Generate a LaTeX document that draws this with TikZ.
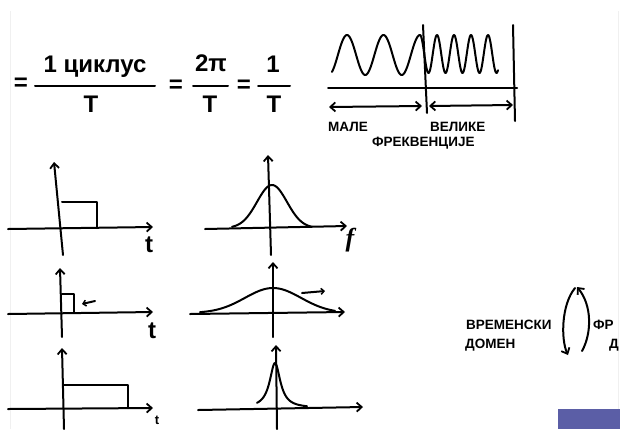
\documentclass[tikz,border=0pt]{standalone}
\usepackage{fontspec}
\setmainfont{Liberation Sans}
\newfontfamily\handserif{Liberation Serif}
\usetikzlibrary{arrows.meta}
\definecolor{slidebar}{HTML}{5B5EA6}
\begin{document}
\begin{tikzpicture}[x=1pt,y=-1pt,
  ink/.style={line width=2pt, line cap=round, line join=round, black},
  tipped/.style={ink,-{Straight Barb[length=5pt,width=9pt,line width=1.8pt]}},
  dbltip/.style={ink,{Straight Barb[length=5pt,width=9pt,line width=1.8pt]}-{Straight Barb[length=5pt,width=9pt,line width=1.8pt]}},
  bigtxt/.style={inner sep=0pt, font=\fontsize{24}{24}\selectfont\bfseries},
  lbl/.style={inner sep=0pt, font=\fontsize{13.5}{14}\selectfont\bfseries, anchor=west},
  axlbl/.style={inner sep=0pt, font=\fontsize{24}{24}\selectfont\bfseries}]
\useasboundingbox (0,0) rectangle (620,429);
\fill[white] (0,0) rectangle (620,429);
\draw[gray!12, line width=0.8pt] (10,429) -- (10,11);
\draw[gray!12, line width=0.8pt] (618,11) -- (618,429);

% ---------- formula ----------
\node[bigtxt] (eqa) at (21,84) {=};
\node[bigtxt] (num1) at (95,67) {1 циклус};
\draw[ink] (35,86) -- (155,86);
\node[bigtxt] (den1) at (91,104) {T};
\node[bigtxt] (eqb) at (176,86) {=};
\node[bigtxt] (num2) at (211,63) {2π};
\draw[ink] (193,86) -- (228,86);
\node[bigtxt] (den2) at (210,104) {T};
\node[bigtxt] (eqc) at (244,86) {=};
\node[bigtxt] (num3) at (273,64) {1};
\draw[ink] (258,86) -- (290,86);
\node[bigtxt] (den3) at (274,104) {T};

% ---------- wave ----------
\draw[ink] plot[domain=332:420, samples=120] (\x,{55-20*cos(9.863*(\x-420))})
  -- plot[domain=420:498, samples=140] (\x,{54-19*cos(21.176*(\x-420))});
\draw[ink] (423,25) -- (427,113);
\draw[ink] (513,25) -- (515,121);
\draw[ink] (328,88) -- (517,88);
\coordinate (la) at (329,107);
\coordinate (lb) at (422,106);
\coordinate (ra) at (429,106);
\coordinate (rb) at (513,105);
\draw[dbltip] (la) -- (lb);
\draw[dbltip] (ra) -- (rb);
\node[lbl] (male) at (328,127) {МАЛЕ};
\node[lbl] (velike) at (430,127) {ВЕЛИКЕ};
\node[lbl] (frek) at (372,143) {ФРЕКВЕНЦИЈЕ};

% ---------- left graphs ----------
% graph 1
\draw[tipped] (63,255) -- (54,162);
\draw[tipped] (8,229) -- (153,227);
\draw[ink] (62,202) -- (97,202) -- (97,228);
\node[axlbl] (t1) at (149,245) {t};
% graph 2
\draw[tipped] (62,337) -- (60,268);
\draw[tipped] (8,314) -- (153,312);
\draw[ink] (62,294) -- (74,294) -- (74,312);
\draw[ink,-{Straight Barb[length=3pt,width=6pt,line width=1.5pt]}] (95,301) -- (82,304);
\node[axlbl] (t2) at (152,331) {t};
% graph 3
\draw[tipped] (64,429) -- (62,348);
\draw[tipped] (8,409) -- (153,408);
\draw[ink] (64,385) -- (128,385) -- (128,408);
\node[inner sep=0pt, font=\fontsize{13}{13}\selectfont\bfseries] (t3) at (157,420) {t};

% ---------- right graphs ----------
% graph 1
\draw[tipped] (271,255) -- (268,155);
\draw[tipped] (205,229) -- (347,226);
\draw[ink] plot[domain=232:312, samples=80] (\x,{228-43*exp(-((\x-272)^2)/450)});
\node[inner sep=0pt, font=\fontsize{26}{26}\selectfont\handserif\bfseries\itshape] (f1) at (350,240) {f};
% graph 2
\draw[tipped] (273,337) -- (273,262);
\draw[tipped] (190,314) -- (345,312);
\draw[ink] plot[domain=200:335, samples=100] (\x,{313-25*exp(-((\x-273)^2)/1568)});
\draw[ink,-{Straight Barb[length=3pt,width=6pt,line width=1.5pt]}] (302,293) -- (325,291);
% graph 3
\draw[tipped] (277,429) -- (276,345);
\draw[tipped] (198,410) -- (363,407);
\draw[ink] plot[domain=257:307, samples=120] (\x,{408-45/(1+((\x-275)/6.5)^2)});

% ---------- domains ----------
\node[lbl] (vrem) at (466,325) {ВРЕМЕНСКИ};
\node[lbl] (domen) at (465,345) {ДОМЕН};
\coordinate (ca) at (575,288);
\coordinate (cb) at (568,355);
\coordinate (cc) at (582,351);
\coordinate (cd) at (577,287);
\draw[tipped] (ca) .. controls (561,305) and (561,340) .. (cb);
\draw[tipped] (cc) .. controls (592,333) and (592,305) .. (cd);
\node[lbl] (fr) at (593,325) {ФР};
\node[lbl] (dd) at (609,345) {Д};

\fill[slidebar] (558,409) rectangle (620,429);
\end{tikzpicture}
\end{document}
